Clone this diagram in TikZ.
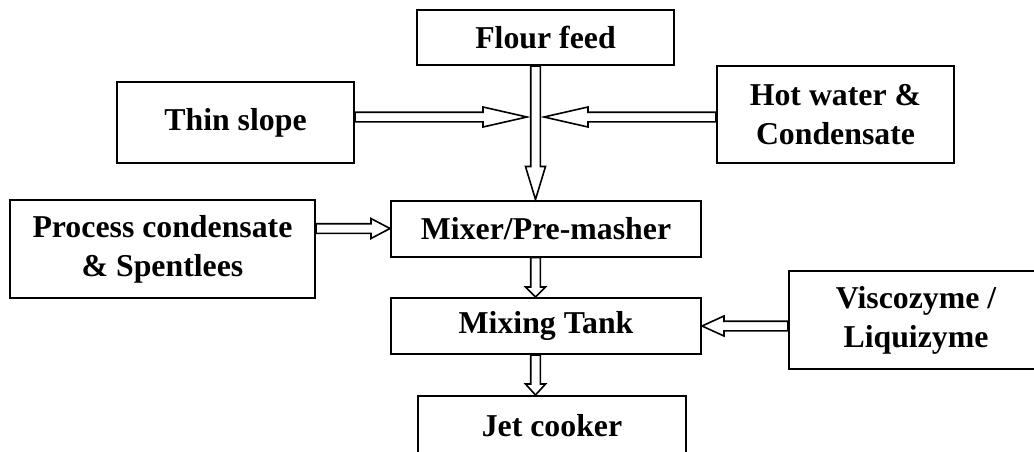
\documentclass[tikz,border=0pt]{standalone}
\usepackage{fontspec}
\setmainfont{Liberation Serif}
\usetikzlibrary{calc}

\begin{document}
\begin{tikzpicture}[x=0.5pt,y=-0.5pt,stage/.style={shape=rectangle,draw=black,line width=1pt,align=center,inner sep=0pt,font=\fontsize{15.9}{19.5}\selectfont\bfseries},feed/.style={draw=black,line width=0.8pt,to path={($(\tikztostart)!\shaftw!90:(\tikztotarget)$) -- ($($(\tikztotarget)!#1!(\tikztostart)$)!\shaftw!-90:(\tikztostart)$) -- ($($(\tikztotarget)!#1!(\tikztostart)$)!\headw!-90:(\tikztostart)$) -- (\tikztotarget) -- ($($(\tikztotarget)!#1!(\tikztostart)$)!\headw!90:(\tikztostart)$) -- ($($(\tikztotarget)!#1!(\tikztostart)$)!\shaftw!90:(\tikztostart)$) -- ($(\tikztostart)!\shaftw!-90:(\tikztotarget)$) -- cycle}}]
\def\shaftw{2.4pt};
\def\headw{5pt};

\useasboundingbox (0,0) rectangle (1034,451);

\node[stage,minimum width=128.5pt,minimum height=27.5pt] (flour) at (545.5,37.5) {Flour feed};
\node[stage,minimum width=118.5pt,minimum height=40.5pt] (thin) at (235.5,122.5) {Thin slope};
\node[stage,minimum width=118.5pt,minimum height=48.5pt] (hot) at (835.5,114.5) {Hot water \&\\Condensate};
\node[stage,minimum width=152.5pt,minimum height=49pt] (proc) at (162.5,249) {Process condensate\\\& Spentlees};
\node[stage,minimum width=155pt,minimum height=28pt] (mixer) at (546,228.5) {Mixer/Pre-masher};
\node[stage,minimum width=155pt,minimum height=28pt] (tank) at (546,326) {Mixing Tank};
\node[stage,minimum width=127pt,minimum height=49pt] (visco) at (916,320) {Viscozyme /\\Liquizyme};
\node[stage,minimum width=134pt,minimum height=30pt] (jet) at (552,426) {Jet cooker};

\coordinate (jx) at (535.5,0);
\coordinate (jl) at (527,117);
\coordinate (jr) at (544,117);

\draw[feed=16.5pt] (flour.south -| jx) to (mixer.north -| jx);
\draw[feed=22pt] (thin.east |- jl) to (jl);
\draw[feed=22pt] (hot.west |- jr) to (jr);
\draw[feed=9.5pt] (proc.east |- mixer.west) to (mixer.west);
\draw[feed=5pt] (mixer.south -| jx) to (tank.north -| jx);
\draw[feed=5.5pt] (tank.south -| jx) to (jet.north -| jx);
\draw[feed=11pt] (visco.west |- tank.east) to (tank.east);
\end{tikzpicture}
\end{document}
